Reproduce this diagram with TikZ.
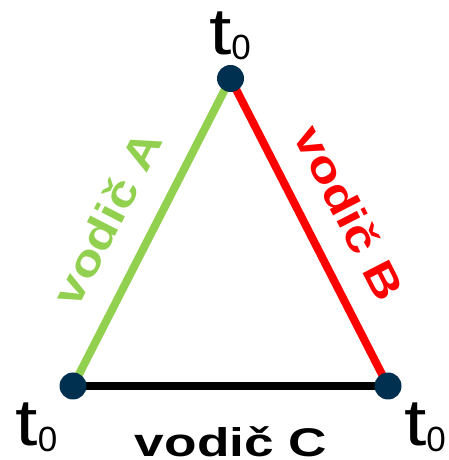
\documentclass[tikz,border=0pt]{standalone}
\usepackage{fontspec}
\setmainfont{Liberation Sans}
\definecolor{dotblue}{HTML}{003050}
\definecolor{wgreen}{HTML}{92D050}
\definecolor{wred}{HTML}{FF0000}
\newcommand{\tnull}{\scalebox{1.22}[1]{t}\raisebox{-5pt}{\fontsize{35}{35}\selectfont 0}}
\begin{document}
\begin{tikzpicture}[x=1pt,y=1pt,
  wire/.style={line width=8pt},
  vdot/.style={circle,fill=dotblue,inner sep=0pt,minimum size=27pt},
  tlab/.style={inner sep=0pt,anchor=base,font=\fontsize{66}{66}\selectfont},
  wlab/.style={inner sep=0pt,rotate=#1,xscale=1.22,font=\bfseries\fontsize{43}{43}\selectfont},
  wlab/.default=0]
\useasboundingbox (0,0) rectangle (448,460);
\coordinate (T) at (230.5,381.5);
\coordinate (L) at (73,74);
\coordinate (R) at (388,74);
\draw[wire,wgreen] (L) -- (T);
\draw[wire,wred] (T) -- (R);
\draw[wire,black] (L) -- (R);
\node[vdot] (dT) at (T) {};
\node[vdot] (dL) at (L) {};
\node[vdot] (dR) at (R) {};
\node[wlab=62.88,text=wgreen] (la) at (107,242) {vodič A};
\node[wlab=-62.88,text=wred] (lb) at (350,247) {vodič B};
\node[inner sep=0pt,xscale=1.33,font=\bfseries\fontsize{40}{40}\selectfont,anchor=base] (lc) at (231,4) {vodič C};
\node[tlab] (tT) at (230,405) {\tnull};
\node[tlab] (tL) at (36.5,14) {\tnull};
\node[tlab] (tR) at (425,14) {\tnull};
\end{tikzpicture}
\end{document}
